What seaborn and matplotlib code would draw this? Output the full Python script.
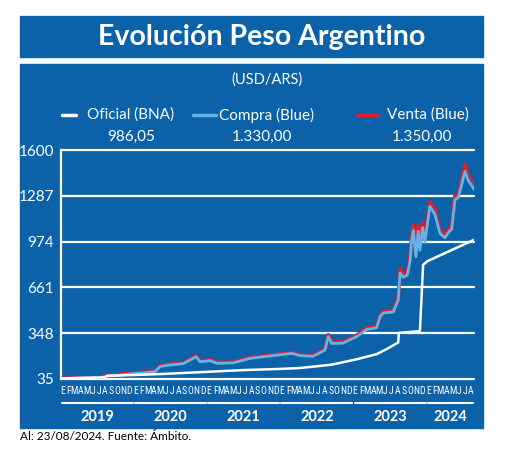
import matplotlib
matplotlib.use("Agg")
import matplotlib.pyplot as plt
import matplotlib.transforms as mtransforms
from matplotlib.patches import Rectangle
from matplotlib.lines import Line2D
from matplotlib import font_manager
import pandas as pd
import seaborn as sns

# ---------------- data ----------------
oficial_dates = ["2019-01-01", "2019-04-15", "2019-08-09", "2019-08-19", "2019-12-26",
                 "2020-06-01", "2020-12-31", "2021-06-30", "2021-12-31", "2022-04-08",
                 "2022-09-13", "2023-01-16", "2023-04-25", "2023-06-15", "2023-08-11",
                 "2023-08-14", "2023-11-27", "2023-12-13", "2024-01-03", "2024-08-23"]
oficial_values = [38, 42, 46, 57, 62,
                  70, 84, 96, 104, 110,
                  133, 170, 205, 240, 285,
                  350, 362, 815, 840, 986]

blue_dates = ["2019-01-01", "2019-04-20", "2019-07-15", "2019-08-19", "2019-10-06",
              "2019-12-26", "2020-02-13", "2020-04-14", "2020-05-09", "2020-06-11",
              "2020-09-02", "2020-11-05", "2020-11-25", "2021-01-14", "2021-02-16",
              "2021-05-09", "2021-08-02", "2021-11-25", "2022-02-25", "2022-04-08",
              "2022-06-11", "2022-08-10", "2022-08-27", "2022-09-13", "2022-11-08",
              "2023-01-16", "2023-03-06", "2023-04-25", "2023-05-12", "2023-05-28",
              "2023-07-17", "2023-08-11", "2023-08-20", "2023-09-05", "2023-09-25",
              "2023-10-09", "2023-10-17", "2023-10-25", "2023-11-07", "2023-11-19",
              "2023-11-27", "2023-12-11", "2023-12-22", "2024-01-03", "2024-01-16",
              "2024-02-10", "2024-03-06", "2024-03-31", "2024-04-17", "2024-05-04",
              "2024-05-20", "2024-06-06", "2024-06-23", "2024-07-09", "2024-07-26",
              "2024-08-20", "2024-08-23"]
compra_values = [37, 44, 44, 55, 58,
                 72, 76, 85, 120, 128,
                 140, 187, 153, 160, 142,
                 145, 176, 195, 210, 195,
                 190, 232, 325, 278, 280,
                 325, 373, 385, 460, 486,
                 493, 575, 760, 730, 745,
                 840, 985, 1050, 870, 1045,
                 915, 1070, 970, 1090, 1215,
                 1160, 1030, 1000, 1035, 1060,
                 1260, 1275, 1365, 1455, 1390,
                 1340, 1330]
venta_values = [39, 46, 47, 59, 63,
                78, 80, 90, 126, 133,
                146, 195, 158, 166, 148,
                150, 181, 200, 216, 200,
                197, 240, 338, 286, 290,
                335, 383, 395, 470, 495,
                503, 600, 790, 750, 770,
                870, 1020, 1085, 910, 1085,
                950, 1105, 1000, 1120, 1245,
                1190, 1050, 1020, 1055, 1080,
                1290, 1300, 1390, 1500, 1420,
                1360, 1350]

start_date, end_date = "2019-01-01", "2024-08-23"
y_ticks = [35, 348, 661, 974, 1287, 1600]
month_letters = ["E", "F", "M", "A", "M", "J", "J", "A", "S", "O", "N", "D"]
years = [2019, 2020, 2021, 2022, 2023, 2024]
legend_labels = ["Oficial (BNA)", "Compra (Blue)", "Venta (Blue)"]
last_values = ["986,05", "1.330,00", "1.350,00"]
title = "Evolución Peso Argentino"
subtitle = "(USD/ARS)"
source = "Al: 23/08/2024. Fuente: Ámbito."

# ---------------- style ----------------
sns.set_style("white")
plt.rcParams['font.family'] = ['Lato', 'DejaVu Sans']

installed = {f.name for f in font_manager.fontManager.ttflist}
narrow = [f for f in ["Liberation Sans Narrow", "Roboto Condensed", "Open Sans Condensed",
                      "DejaVu Sans"] if f in installed]
month_family = narrow[0] if narrow else "DejaVu Sans"
month_size = 7 if month_family != "DejaVu Sans" else 6

BLUE = "#0b62a9"
LIGHT = "#62b3e8"
RED = "#e01f2b"
WHITE = "#ffffff"

W, H = 520, 466
fig = plt.figure(figsize=(W / 100, H / 100), dpi=100)
fig.patch.set_facecolor("white")


def fx(px):
    return px / W


def fy(py):
    return 1 - py / H


fig.patches.append(Rectangle((fx(20), fy(57)), (483 - 20) / W, (57 - 16) / H,
                             transform=fig.transFigure, color=BLUE, zorder=-2))
fig.patches.append(Rectangle((fx(20), fy(428)), (483 - 20) / W, (428 - 64) / H,
                             transform=fig.transFigure, color=BLUE, zorder=-2))

fig.text(fx(262), fy(37), title, color=WHITE, fontsize=20.5, fontweight="bold",
         ha="center", va="center")
fig.text(fx(267), fy(80), subtitle, color=WHITE, fontsize=10.5, ha="center", va="center")

# legend
leg_lines = [(62, 76, WHITE), (193, 216, LIGHT), (357, 377, RED)]
leg_text_x = [87, 219, 387]
val_x = [131, 262, 422]
for (x0, x1, c), tx, lab, vx, val in zip(leg_lines, leg_text_x, legend_labels, val_x, last_values):
    fig.add_artist(Line2D([fx(x0), fx(x1)], [fy(115), fy(115)], color=c, lw=2.5,
                          transform=fig.transFigure))
    fig.text(fx(tx), fy(115), lab, color=WHITE, fontsize=11, ha="left", va="center")
    fig.text(fx(vx), fy(137), val, color=WHITE, fontsize=11, ha="center", va="center")

fig.text(fx(20), fy(437), source, color="black", fontsize=8.5, ha="left", va="center")

# ---------------- axes ----------------
ax = fig.add_axes([fx(61), fy(379), (474 - 61) / W, (379 - 150) / H])
ax.set_facecolor("none")
ax.set_zorder(1)

df_blue = pd.DataFrame({"fecha": pd.to_datetime(blue_dates),
                        "compra": compra_values, "venta": venta_values})
df_of = pd.DataFrame({"fecha": pd.to_datetime(oficial_dates), "oficial": oficial_values})

sns.lineplot(data=df_blue, x="fecha", y="venta", ax=ax, color=RED, lw=2.6, zorder=3)
sns.lineplot(data=df_blue, x="fecha", y="compra", ax=ax, color=LIGHT, lw=2.0, zorder=4)
sns.lineplot(data=df_of, x="fecha", y="oficial", ax=ax, color=WHITE, lw=1.8, zorder=5)

ax.set_xlim(pd.Timestamp(start_date), pd.Timestamp(end_date))
ax.set_ylim(y_ticks[0], y_ticks[-1])
ax.set_xlabel("")
ax.set_ylabel("")
ax.grid(False)

for yv in y_ticks:
    ax.axhline(yv, color=WHITE, lw=1.6, clip_on=False, zorder=2)

for s in ["top", "right", "bottom"]:
    ax.spines[s].set_visible(False)
ax.spines["left"].set_color(WHITE)
ax.spines["left"].set_linewidth(1.6)

ax.set_yticks(y_ticks)
ax.set_yticklabels([str(v) for v in y_ticks], color=WHITE, fontsize=11)
ax.tick_params(axis="y", length=0, pad=5)

# month ticks
end_ts = pd.Timestamp(end_date)
month_pos, month_lab = [], []
for yr in years:
    for m, letter in enumerate(month_letters, start=1):
        d = pd.Timestamp(year=yr, month=m, day=8)
        if d <= end_ts:
            month_pos.append(d)
            month_lab.append(letter)
ax.set_xticks(month_pos)
ax.set_xticklabels(month_lab, color=WHITE, fontsize=month_size,
                   fontfamily=[month_family], fontstretch="condensed")
ax.tick_params(axis="x", length=0, pad=5)

trans = mtransforms.blended_transform_factory(ax.transData, ax.transAxes)
y_bar = (379 - 403) / (379 - 150)
y_year = (379 - 417) / (379 - 150)
for yr in years:
    s = pd.Timestamp(year=yr, month=1, day=1) + pd.Timedelta(days=4)
    e = min(pd.Timestamp(year=yr, month=12, day=31), end_ts) - pd.Timedelta(days=6)
    ax.plot([s, e], [y_bar, y_bar], color=WHITE, lw=1.5, transform=trans, clip_on=False)
    mid = s + (e - s) / 2
    ax.text(mid, y_year, str(yr), color=WHITE, fontsize=10.5, fontweight="bold",
            ha="center", va="center", transform=trans)

fig.savefig("out.png", dpi=100, facecolor="white")
